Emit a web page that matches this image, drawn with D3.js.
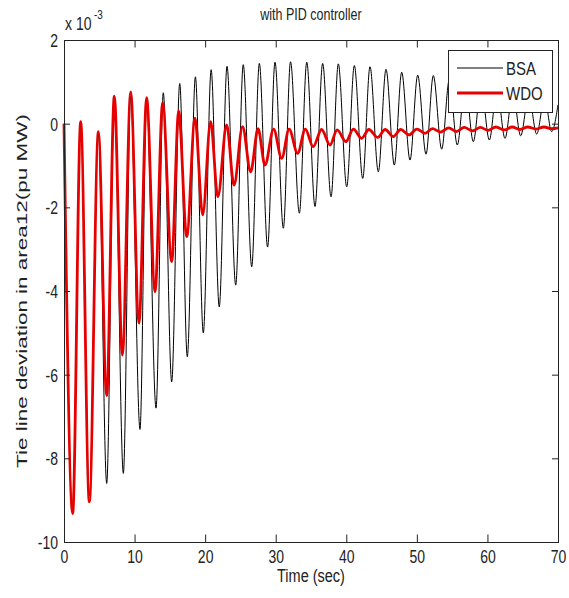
<!DOCTYPE html>
<html>
<head>
<meta charset="utf-8">
<script src="https://cdn.jsdelivr.net/npm/d3@7/dist/d3.min.js"></script>
<style>
  html, body { margin: 0; padding: 0; background: #fff; }
  svg { display: block; }
  text { font-family: "Liberation Sans", Arial, Helvetica, sans-serif; fill: #222; }
</style>
</head>
<body>
<svg id="chart" width="569" height="598"></svg>
<script>
// Tie-line deviation in area 1-2 (values in units of 1e-3 pu MW), PID controller

// BSA response: successive turning points (time s, deviation x1e-3)
const bsaTime = [0, 1.2, 2.36, 3.6, 4.87, 6.05, 7.13, 8.41, 9.45, 10.77, 11.71, 13.04, 14.07, 15.26,
  16.40, 17.47, 18.62, 19.74, 20.85, 22.00, 23.10, 24.33, 25.40, 26.60, 27.68, 28.85, 29.90, 31.08,
  32.10, 33.35, 34.40, 35.57, 36.65, 37.84, 38.87, 40.06, 41.14, 42.33, 43.36, 44.54, 45.63, 46.81,
  47.85, 49.03, 50.12, 51.30, 52.33, 53.52, 54.60, 55.73, 56.85, 58.00, 59.10, 60.27, 61.35, 62.49,
  63.60, 64.71, 65.85, 66.98, 68.10, 69.10, 70.00];
const bsaValue = [0, -9.2, 0.0, -8.9, -0.25, -8.60, 0.55, -8.36, 0.65, -7.31, 0.55, -6.80, 0.74, -6.17,
  0.96, -5.57, 1.12, -5.00, 1.29, -4.38, 1.37, -3.86, 1.41, -3.42, 1.44, -2.95, 1.47, -2.50,
  1.48, -2.14, 1.47, -1.98, 1.44, -1.75, 1.43, -1.51, 1.39, -1.31, 1.36, -1.15, 1.30, -0.99,
  1.23, -0.87, 1.16, -0.73, 1.15, -0.61, 1.05, -0.51, 0.97, -0.43, 0.89, -0.39, 0.82, -0.35,
  0.75, -0.29, 0.68, -0.25, 0.62, -0.19, 0.45];

// WDO response: successive turning points (time s, deviation x1e-3)
const wdoTime = [0, 1.23, 2.36, 3.59, 4.87, 6.05, 7.13, 8.27, 9.45, 10.63, 11.71, 12.90, 13.98, 15.26,
  16.25, 17.39, 18.56, 19.65, 20.78, 21.80, 23.05, 24.09, 25.30, 26.45, 27.50, 28.48, 29.70, 30.85,
  31.90, 33.10, 34.20, 35.30, 36.50, 37.70, 38.70, 39.96, 41.00, 42.18, 43.20, 44.45, 45.50, 46.67,
  47.70, 48.90, 50.00, 51.15, 52.20, 53.40, 54.50, 55.60, 56.70, 57.90, 59.00, 60.10, 61.20, 62.40,
  63.50, 64.60, 65.70, 66.90, 68.00, 69.10, 70.00];
const wdoValue = [0, -9.32, 0.05, -9.04, -0.19, -6.5, 0.66, -5.53, 0.76, -4.77, 0.62, -4.02, 0.50, -3.30,
  0.30, -2.70, 0.13, -2.18, 0.05, -1.75, -0.03, -1.47, -0.07, -1.15, -0.12, -0.99, -0.13, -0.83,
  -0.13, -0.71, -0.13, -0.55, -0.14, -0.51, -0.15, -0.43, -0.13, -0.35, -0.14, -0.33, -0.14, -0.31,
  -0.14, -0.27, -0.13, -0.23, -0.12, -0.20, -0.10, -0.19, -0.09, -0.17, -0.09, -0.16, -0.08, -0.15,
  -0.08, -0.14, -0.08, -0.13, -0.08, -0.12, -0.10];

const seriesNames = ["BSA", "WDO"];
const seriesColors = ["#000000", "#e60000"];
const xTicks = [0, 10, 20, 30, 40, 50, 60, 70];
const yTicks = [2, 0, -2, -4, -6, -8, -10];

const svg = d3.select("#chart");
const plotLeft = 64, plotRight = 558, plotTop = 40, plotBottom = 542;
const x = d3.scaleLinear().domain([0, 70]).range([plotLeft, plotRight]);
const y = d3.scaleLinear().domain([-10, 2]).range([plotBottom, plotTop]);

const line = d3.line()
  .x(d => x(d[0]))
  .y(d => y(d[1]))
  .curve(d3.curveMonotoneX);

const bsa = bsaTime.map((t, i) => [t, bsaValue[i]]);
const wdo = wdoTime.map((t, i) => [t, wdoValue[i]]);

// series
svg.append("path").datum(bsa)
  .attr("d", line).attr("fill", "none")
  .attr("stroke", seriesColors[0]).attr("stroke-width", 1);
svg.append("path").datum(wdo)
  .attr("d", line).attr("fill", "none")
  .attr("stroke", seriesColors[1]).attr("stroke-width", 2.8)
  .attr("stroke-linejoin", "round");

// axes with inward ticks on all four sides
const fmt = d => String(d);
const gx = svg.append("g").attr("transform", `translate(0,${plotBottom})`)
  .call(d3.axisBottom(x).tickValues(xTicks).tickFormat(fmt).tickSizeInner(-7.5).tickSizeOuter(0));
const gxTop = svg.append("g").attr("transform", `translate(0,${plotTop})`)
  .call(d3.axisTop(x).tickValues(xTicks).tickFormat("").tickSizeInner(-7.5).tickSizeOuter(0));
const gy = svg.append("g").attr("transform", `translate(${plotLeft},0)`)
  .call(d3.axisLeft(y).tickValues(yTicks).tickFormat(fmt).tickSizeInner(-6).tickSizeOuter(0));
const gyRight = svg.append("g").attr("transform", `translate(${plotRight},0)`)
  .call(d3.axisRight(y).tickValues(yTicks).tickFormat("").tickSizeInner(-6).tickSizeOuter(0));

[gx, gxTop, gy, gyRight].forEach(g => {
  g.select(".domain").remove();
  g.selectAll(".tick line").attr("stroke", "#222");
});

gx.selectAll(".tick text")
  .attr("y", null).attr("dy", null)
  .attr("transform", "translate(0,21) scale(1,1.3)")
  .attr("font-size", 14).attr("font-family", null).attr("fill", "#222");
gy.selectAll(".tick text")
  .attr("x", null).attr("dy", null)
  .attr("text-anchor", "end")
  .attr("transform", "translate(-6,6.5) scale(1,1.3)")
  .attr("font-size", 14).attr("font-family", null).attr("fill", "#222");

// frame
svg.append("rect")
  .attr("x", plotLeft + 0.5).attr("y", plotTop + 0.5)
  .attr("width", plotRight - plotLeft).attr("height", plotBottom - plotTop)
  .attr("fill", "none").attr("stroke", "#222").attr("stroke-width", 1);

// exponent note
svg.append("text").attr("transform", "translate(65,30) scale(1,1.3)")
  .attr("font-size", 14).text("x 10");
svg.append("text").attr("transform", "translate(94,19) scale(1,1.3)")
  .attr("font-size", 10).text("-3");

// title and axis labels
const midX = (plotLeft + plotRight) / 2;
svg.append("text").attr("transform", `translate(${midX},20) scale(1,1.3)`)
  .attr("text-anchor", "middle").attr("font-size", 12.5).text("with PID controller");
svg.append("text").attr("transform", `translate(${midX},582) scale(1,1.25)`)
  .attr("text-anchor", "middle").attr("font-size", 14.5).text("Time (sec)");
svg.append("text").attr("transform", `translate(27,${(plotTop + plotBottom) / 2}) rotate(-90) scale(1.45,1)`)
  .attr("text-anchor", "middle").attr("font-size", 15.5)
  .text("Tie line deviation in area12(pu MW)");

// legend
const lg = svg.append("g");
lg.append("rect").attr("x", 448.5).attr("y", 50.5).attr("width", 104).attr("height", 62)
  .attr("fill", "#fff").attr("stroke", "#222").attr("stroke-width", 1);
seriesNames.forEach((name, i) => {
  const yy = 68 + i * 25;
  lg.append("line").attr("x1", 457).attr("x2", 503).attr("y1", yy).attr("y2", yy)
    .attr("stroke", seriesColors[i]).attr("stroke-width", i === 0 ? 1 : 2.8);
  lg.append("text").attr("transform", `translate(506,${yy + 6.6}) scale(1,1.22)`)
    .attr("font-size", 15).text(name);
});
</script>
</body>
</html>
